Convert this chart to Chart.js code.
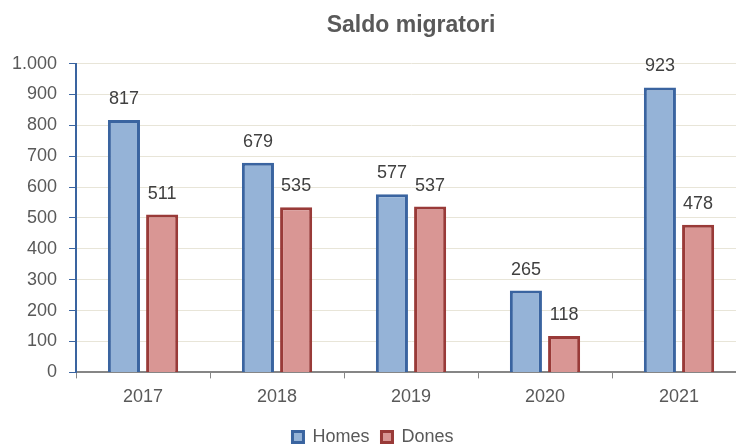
<!DOCTYPE html>
<html>
<head>
<meta charset="utf-8">
<script src="https://cdn.jsdelivr.net/npm/chart.js@4/dist/chart.umd.min.js"></script>
<style>
  body { margin: 0; overflow: hidden; background: #fff; }
</style>
</head>
<body>
<canvas id="myChart" width="746" height="446"></canvas>
<script>
const years = ['2017', '2018', '2019', '2020', '2021'];
const homes = [817, 679, 577, 265, 923];
const dones = [511, 535, 537, 118, 478];
const yTicks = [0, 100, 200, 300, 400, 500, 600, 700, 800, 900, 1000];

Chart.defaults.font.family = '"Liberation Sans", Arial, sans-serif';
Chart.defaults.color = '#595959';

// value labels on top of the bars
const valueLabels = {
  id: 'valueLabels',
  afterDatasetsDraw(chart) {
    const ctx = chart.ctx;
    ctx.save();
    ctx.font = '18px "Liberation Sans", Arial, sans-serif';
    ctx.fillStyle = '#404040';
    ctx.textAlign = 'center';
    ctx.textBaseline = 'middle';
    chart.data.datasets.forEach((ds, i) => {
      chart.getDatasetMeta(i).data.forEach((bar, j) => {
        ctx.fillText(ds.data[j], bar.x, bar.y - 21);
      });
    });
    ctx.restore();
  }
};

const data = {
  labels: years,
  datasets: [{
    label: 'Homes',
    data: homes,
    backgroundColor: '#95B3D7',
    borderColor: '#3A64A0',
    borderWidth: 3
  }, {
    label: 'Dones',
    data: dones,
    backgroundColor: '#D99694',
    borderColor: '#993A38',
    borderWidth: 3
  }]
};

const config = {
  type: 'bar',
  data,
  options: {
    responsive: false,
    animation: false,
    categoryPercentage: 0.57,
    barPercentage: 0.84,
    layout: { padding: { left: 0, top: 12, right: 0, bottom: -10 } },
    plugins: {
      title: {
        display: true,
        text: 'Saldo migratori',
        fullSize: false,
        font: { size: 23, weight: 'bold' },
        color: '#595959',
        padding: { top: 0, bottom: 24 }
      },
      legend: {
        position: 'bottom',
        labels: {
          boxWidth: 11,
          boxHeight: 11,
          padding: 12,
          font: { size: 18 },
          color: '#595959'
        }
      },
      tooltip: { enabled: false }
    },
    scales: {
      x: {
        offset: true,
        grid: {
          offset: true,
          drawOnChartArea: false,
          tickColor: '#868686',
          tickLength: 6
        },
        border: { color: '#868686', width: 2 },
        ticks: { font: { size: 18 }, color: '#595959', padding: 8 }
      },
      y: {
        min: 0,
        max: 1000,
        afterBuildTicks: (axis) => { axis.ticks = yTicks.map(v => ({ value: v })); },
        grid: {
          color: '#E8E5D8',
          tickColor: '#3A64A0',
          tickLength: 7
        },
        border: { color: '#3A64A0', width: 2 },
        ticks: {
          font: { size: 18 },
          color: '#595959',
          padding: 12,
          callback: (v) => v >= 1000 ? Math.floor(v / 1000) + '.' + String(v % 1000).padStart(3, '0') : String(v)
        }
      }
    }
  },
  plugins: [valueLabels]
};

const myChart = new Chart(document.getElementById('myChart'), config);
</script>
</body>
</html>
